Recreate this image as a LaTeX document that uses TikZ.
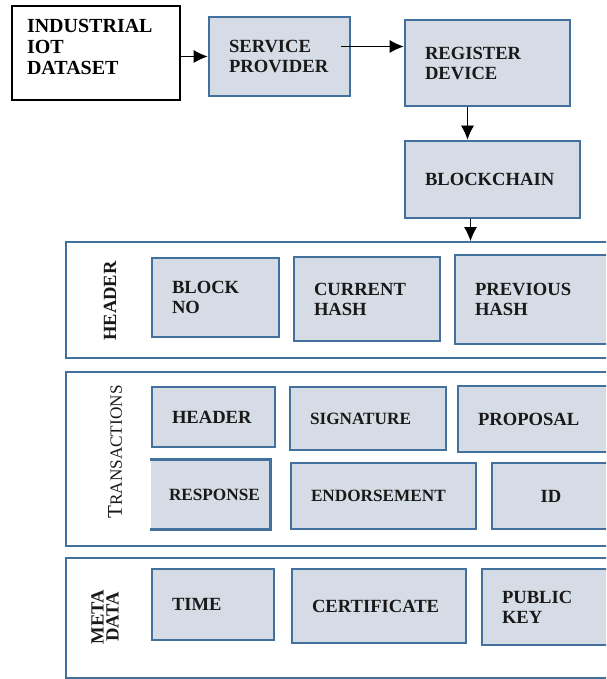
\documentclass[tikz,border=0pt]{standalone}
\usepackage{fontspec}
\setmainfont{Liberation Serif}
\usetikzlibrary{arrows.meta,positioning}
\definecolor{boxfill}{HTML}{D6DCE5}
\definecolor{boxline}{HTML}{41719C}
\tikzset{
  blk/.style 2 args={draw=boxline,line width=1.4pt,fill=boxfill,text width=#1,minimum height=#2,
    align=left,inner xsep=10pt,inner ysep=0pt,text=black!90,font=\bfseries\fontsize{9.3}{10}\selectfont},
  panel/.style={draw=boxline,line width=1pt,minimum width=280pt,minimum height=#1,anchor=north west,inner sep=0pt},
  side/.style={rotate=90,align=center,inner sep=0pt,text=black!90,font=\bfseries\fontsize{9.3}{7.5}\selectfont}
}
\begin{document}
\begin{tikzpicture}[x=0.5pt,y=0.5pt,>={Latex[length=7pt,width=6.5pt]}]
\useasboundingbox (0,0) rectangle (606,-679);
\clip (0,0) rectangle (606,-679);

\node[draw,line width=0.8pt,text width=69pt,minimum height=47pt,align=left,inner xsep=7.5pt,inner ysep=0pt,
  font=\bfseries\fontsize{10}{10.5}\selectfont] (data) at (96,-53) {INDUSTRIAL\\IOT\\DATASET\\[-4pt]\mbox{}};
\node[blk={50.5pt}{39.5pt}] (sp) at (279.5,-56.5) {SERVICE\\PROVIDER};
\node[blk={62.5pt}{43pt}] (rd) at (487.5,-63) {REGISTER\\DEVICE};
\node[blk={67.5pt}{38.5pt}] (bc) at (492.5,-179.5) {BLOCKCHAIN};

\node[panel=58pt] (hdr) at (65,-241) {};
\node[panel=87pt] (trs) at (65,-371) {};
\node[panel=60pt] (meta) at (65,-557) {};

\node[side] (hdrlbl) at (110,-301) {HEADER};
\node[side,font=\fontsize{8.6}{10}\selectfont] (trslbl) at (115,-452) {{\fontsize{10.5}{12}\selectfont T}RANSACTIONS};
\node[side] (metalbl) at (105,-617) {META\\DATA};

\node[blk={43.5pt}{39.5pt}] (blockno) at (215.5,-297.5) {BLOCK\\NO};
\node[blk={53pt}{42pt}] (curhash) at (367,-299) {CURRENT\\HASH};
\node[blk={57.5pt}{44.5pt}] (prevhash) at (532.5,-299.5) {PREVIOUS\\HASH};

\node[blk={41.5pt}{30pt}] (thead) at (213.5,-417) {HEADER};
\node[blk={58pt}{31.5pt},font=\bfseries\fontsize{8.6}{10}\selectfont] (sig) at (368,-418.5) {SIGNATURE};
\node[blk={56pt}{33pt}] (prop) at (534,-419) {PROPOSAL};
\node[blk={41pt}{33.5pt},draw=none,inner xsep=9pt,font=\bfseries\fontsize{8.6}{10}\selectfont] (resp) at (210,-494.5) {RESPONSE};
\draw[boxline,line width=1.4pt] (resp.south west) -- (resp.south east) -- (resp.north east) -- (resp.north west);
\node[blk={72.5pt}{33pt},font=\bfseries\fontsize{8.6}{10}\selectfont] (endo) at (383.5,-496) {ENDORSEMENT};
\node[blk={39pt}{33pt},align=center] (id) at (551,-496) {ID};

\node[blk={41pt}{35.5pt}] (time) at (213,-604.5) {TIME};
\node[blk={67pt}{37pt}] (cert) at (379,-606) {CERTIFICATE};
\node[blk={44pt}{38pt}] (pubkey) at (546,-607) {PUBLIC\\KEY};

\coordinate (spout) at ([yshift=5pt]sp.east);
\coordinate (rdout) at ([xshift=-10pt]rd.south);
\coordinate (bcout) at ([xshift=-11pt]bc.south);
\draw[->] (data.east |- sp) -- (sp.west);
\draw[->,shorten <=-5pt] (spout) -- (spout -| rd.west);
\draw[->] (rdout) -- (rdout |- bc.north);
\draw[->] (bcout) -- (bcout |- hdr.north);
\end{tikzpicture}
\end{document}
